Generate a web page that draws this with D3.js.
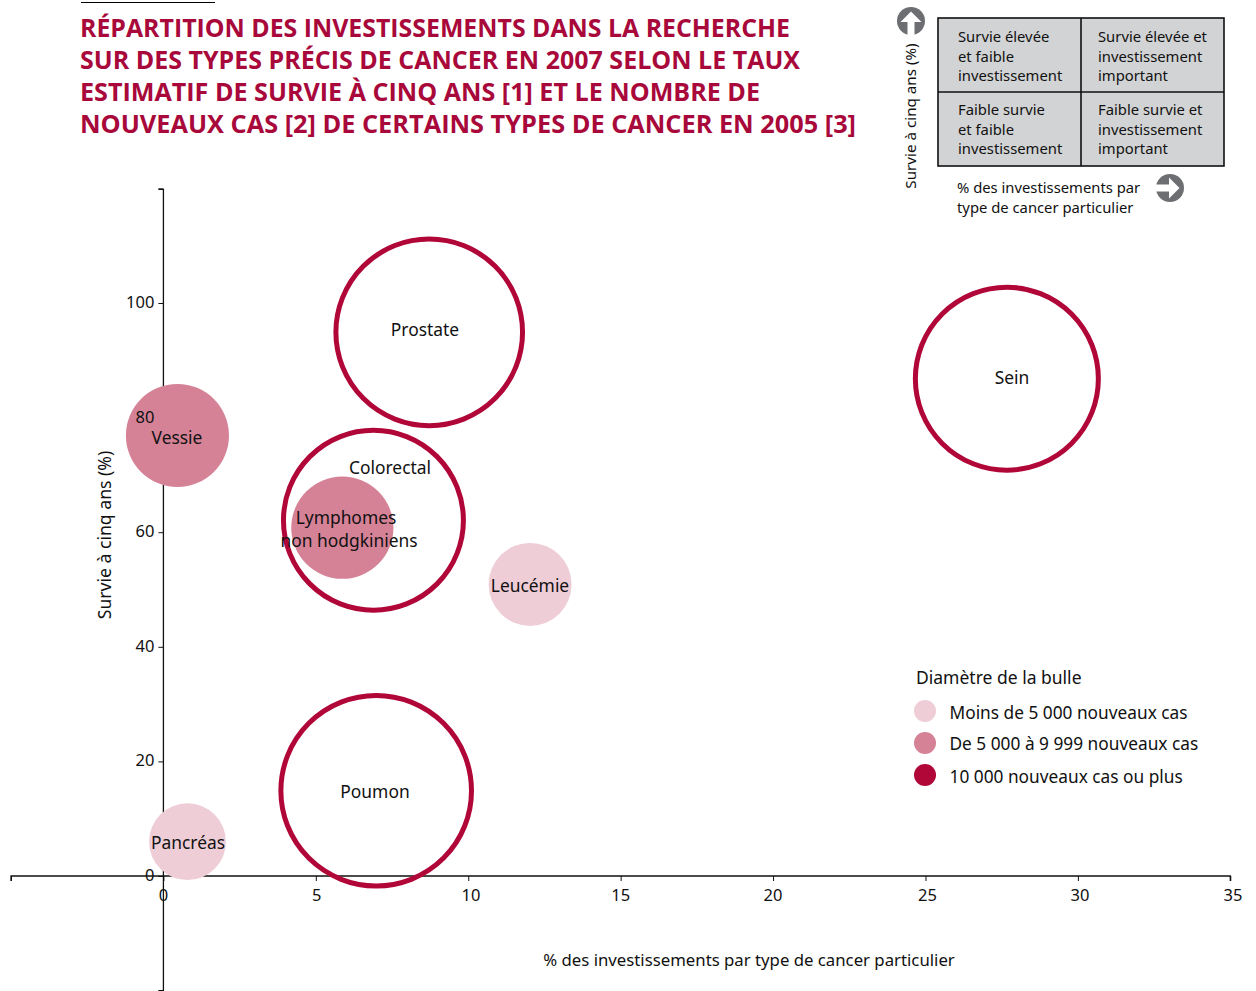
<!DOCTYPE html>
<html><head><meta charset="utf-8">
<style>html,body{margin:0;background:#fff}svg{display:block}text{font-family:"Noto Sans",sans-serif;fill:#111}</style>
<script src="https://cdn.jsdelivr.net/npm/d3@7"></script></head><body>
<svg id="c" width="1256" height="991"></svg>
<script>
const titleLines=["RÉPARTITION DES INVESTISSEMENTS DANS LA RECHERCHE","SUR DES TYPES PRÉCIS DE CANCER EN 2007 SELON LE TAUX","ESTIMATIF DE SURVIE À CINQ ANS [1] ET LE NOMBRE DE","NOUVEAUX CAS [2] DE CERTAINS TYPES DE CANCER EN 2005 [3]"];
const names=["Prostate","Sein","Colorectal","Poumon","Vessie","Lymphomes non hodgkiniens","Leucémie","Pancréas"];
const invest=[8.72,27.67,6.89,6.98,0.46,5.87,12.03,0.79];
const survival=[94.8,86.7,62,14.8,76.8,60.7,50.8,5.9];
const diameter=[6.12,6.0,5.9,6.25,3.38,3.35,2.72,2.52];
const klass=[2,2,2,2,1,1,0,0];
const xTicks=[0,5,10,15,20,25,30,35];
const yTicks=[-20,0,20,40,60,80,100,120];
const yLabels=[0,20,40,60,80,100];
const classLabels=["Moins de 5 000 nouveaux cas","De 5 000 à 9 999 nouveaux cas","10 000 nouveaux cas ou plus"];
const classColors=["#eecdd7","#d58297","#b00638"];
const quad=[["Survie élevée","et faible","investissement"],["Survie élevée et","investissement","important"],["Faible survie","et faible","investissement"],["Faible survie et","investissement","important"]];

const svg=d3.select("#c");
const x=d3.scaleLinear().domain([-5,35]).range([11,1230.3]);
const y=d3.scaleLinear().domain([0,100]).range([876,303]);
const r=d3.scaleLinear().domain([0,1]).range([0,15.25]);
const t=(s,px,py,fs,a,col)=>svg.append("text").attr("x",px).attr("y",py).attr("font-size",fs).attr("text-anchor",a||"start").attr("fill",col||"#111").style("fill",col||"#111").text(s);

svg.append("line").attr("x1",81).attr("x2",215).attr("y1",2.5).attr("y2",2.5).attr("stroke","#000").attr("stroke-width",1);
titleLines.forEach((l,i)=>t(l,80,37+i*32,25.5,"start","#a8083a").attr("font-weight",700).attr("textLength",[710,720,680,776][i]).attr("lengthAdjust","spacingAndGlyphs").style("font-family","'Open Sans',sans-serif"));

// axes sit under the bubbles
const gx=svg.append("g").attr("transform",`translate(0,${y(0)})`).call(d3.axisBottom(x).tickValues([-5,...xTicks]).tickSize(5).tickFormat(""));
const gy=svg.append("g").attr("transform",`translate(${x(0)},0)`).call(d3.axisLeft(y).tickValues(yTicks).tickSize(5).tickFormat(""));
[gx,gy].forEach(g=>{g.selectAll("path").attr("stroke","#111").attr("stroke-width",1.3);g.selectAll("line").attr("stroke","#111")});
gx.select("path").attr("d",`M${x(-5)},5V0H${x(35)}V5`);
gy.select("path").attr("d",`M-5,${y(120)+1}H0V${y(-20)}H-5`);

const order=[2,0,1,3,4,6,7,5];
order.forEach(i=>{
  const g=svg.append("circle").attr("cx",x(invest[i])).attr("cy",y(survival[i])-0.5).attr("r",r(diameter[i]));
  if(klass[i]===2) g.attr("fill","none").attr("stroke",classColors[2]).attr("stroke-width",5);
  else g.attr("fill",classColors[klass[i]]);
});

const tickNudge=[0,1,2.7,0,0,2,2,2.7];
xTicks.forEach((v,i)=>t(v,x(v)+tickNudge[i],901,16.5,"middle"));
yLabels.forEach(v=>t(v,x(0)-9,y(v)+5,16.5,"end"));

t("% des investissements par type de cancer particulier",749,966,16.75,"middle");
t("Survie à cinq ans (%)",0,0,17.6,"middle").attr("transform","translate(111,535) rotate(-90)");

// bubble labels
const lab=[["Prostate",425,336],["Sein",1012,384],["Colorectal",390,474],["Poumon",375,798],["Vessie",177,444],["Lymphomes",346,524],["non hodgkiniens",349,547],["Leucémie",530,592],["Pancréas",188,849]];
lab.forEach(d=>t(d[0],d[1],d[2],17.4,"middle"));

// key
const kx=d3.scaleLinear().domain([0,2]).range([938,1224]);
const ky=d3.scaleLinear().domain([0,2]).range([18,166]);
svg.append("rect").attr("x",kx(0)).attr("y",ky(0)).attr("width",kx(2)-kx(0)).attr("height",ky(2)-ky(0)).attr("fill","#d1d3d4").attr("stroke","#111").attr("stroke-width",1.6);
svg.append("line").attr("x1",1081).attr("x2",1081).attr("y1",ky(0)).attr("y2",ky(2)).attr("stroke","#111").attr("stroke-width",1.6);
svg.append("line").attr("x1",kx(0)).attr("x2",kx(2)).attr("y1",92).attr("y2",92).attr("stroke","#111").attr("stroke-width",1.6);
quad.forEach((q,i)=>q.forEach((s,j)=>t(s,i%2?1098:958,42.3+(i>1?73:0)+j*19.3,14.8)));
t("% des investissements par",957,192.5,14.8);
t("type de cancer particulier",957,212.5,14.8);
t("Survie à cinq ans (%)",0,0,15.2,"middle").attr("transform","translate(916,116) rotate(-90)");

function arrow(cx,cy,rot){
  const g=svg.append("g").attr("transform",`translate(${cx},${cy}) rotate(${rot})`);
  g.append("circle").attr("r",14).attr("fill","#6d6e71");
  g.append("path").attr("d","M-10.5,1L0,-9.5L10.5,1H3.5V14.5H-3.5V1Z").attr("fill","#fff");
}
arrow(911,21,0);
arrow(1170,188,90);

// legend
t("Diamètre de la bulle",916,684,17.5);
classLabels.forEach((s,i)=>{
  const yy=[711,743,775][i];
  svg.append("circle").attr("cx",925).attr("cy",yy).attr("r",11).attr("fill",classColors[i]);
  t(s,949.5,[719,749.5,782.5][i],17.3);
});
</script></body></html>
